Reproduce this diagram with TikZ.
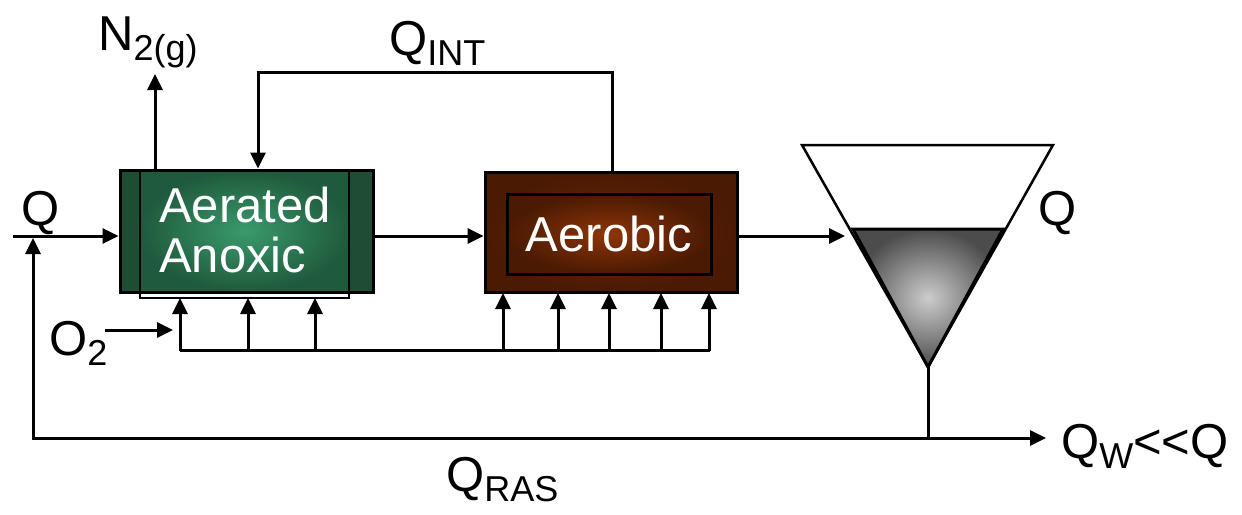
\documentclass[tikz,border=0pt]{standalone}
\usepackage{fontspec}
\setmainfont{Liberation Sans}
\usetikzlibrary{arrows.meta}
\newcommand{\subtxt}[1]{\raisebox{-10pt}{\fontsize{36}{36}\selectfont #1}}
\definecolor{greendark}{HTML}{1E4D34}
\definecolor{greenlight}{HTML}{3A9A6C}
\definecolor{greenedge}{HTML}{1F5A3C}
\definecolor{browndark}{HTML}{4A1A02}
\definecolor{brownmid}{HTML}{6A2808}
\definecolor{brownlight}{HTML}{8E3508}
\tikzset{
  lbl/.style={inner sep=0pt, font=\fontsize{49}{50}\selectfont},
  flow/.style={draw, line width=3pt, -{Triangle[length=16pt,width=15pt]}},
  plain/.style={draw, line width=3pt},
}
\begin{document}
\begin{tikzpicture}[x=1pt,y=-1pt]
\useasboundingbox (0,0) rectangle (1242,514);
% ---------- Aerated Anoxic tank
\node[draw, line width=3pt, fill=greendark, minimum width=253pt, minimum height=122pt, inner sep=0pt] (anox) at (246.5,231) {};
\shade[inner color=greenlight, outer color=greenedge, shading=radial] (140,171) rectangle (349,291);
\draw[line width=3pt] (120,170) rectangle (373,292);
\draw[line width=2.5pt] (140,170) rectangle (349,298);
\node[lbl, text=white, align=left, anchor=base west] (anoxtxt) at (159,272) {Aerated\\Anoxic};
% ---------- Aerobic tank
\node[draw, line width=3pt, minimum width=252pt, minimum height=120pt, inner sep=0pt,
      shading=radial, inner color=brownmid, outer color=browndark] (aer) at (611,232.5) {};
\node[draw, line width=3pt, minimum width=204pt, minimum height=80pt, inner sep=0pt,
      shading=radial, inner color=brownlight, outer color=browndark] (aerin) at (609,234) {};
\node[lbl, text=white] (aertxt) at (609,234) {Aerobic};
% ---------- Clarifier
\coordinate (c1) at (802,145);
\coordinate (c2) at (1053,145);
\coordinate (apex) at (928,367);
\draw[line width=2.5pt, line join=miter] (c1) -- (c2) -- (apex) -- cycle;
\shade[shading=radial, inner color=gray!40, outer color=black!70, draw=black, line width=3pt, line join=miter]
  (853,229) -- (1003,229) -- (apex) -- cycle;
% ---------- coordinates
\coordinate (qstart) at (13,236);
\coordinate (clarin) at (845,236);
\coordinate (junc) at (928,438);
\coordinate (retcorner) at (33,438);
\coordinate (retend) at (33,238);
\coordinate (waste) at (1046,438);
\coordinate (intR) at (612,72);
\coordinate (intL) at (258,72);
\coordinate (n2top) at (155,74);
\coordinate (o2s) at (105,330);
\coordinate (o2e) at (173,330);
\coordinate (airL) at (180,350);
\coordinate (airR) at (710,350);
% ---------- flows
\draw[flow] (qstart) -- (qstart -| anox.west);
\draw[flow] (anox.east |- qstart) -- (aer.west |- qstart);
\draw[flow] (aer.east |- qstart) -- (clarin);
\draw[plain] (apex) -- (junc);
\draw[flow] (junc) -- (retcorner) -- (retend);
\draw[flow] (junc) -- (waste);
\draw[flow] (intR |- aer.north) -- (intR) -- (intL) -- (intL |- anox.north);
\draw[flow] (n2top |- anox.north) -- (n2top);
\draw[flow] (o2s) -- (o2e);
% ---------- air diffusers
\draw[plain] (airL) -- (airR);
\foreach \x in {180,248,315} \draw[flow] (\x,351) -- (\x,298);
\foreach \x in {503,558,609,661,709} \draw[flow] (\x,351) -- (\x,293);
% ---------- labels
\node[lbl, anchor=base west] (lQin) at (21,225) {Q};
\node[lbl, anchor=base west] (lN2) at (98,50) {N\subtxt{2(g)}};
\node[lbl, anchor=base west] (lQint) at (389,55) {Q\subtxt{INT}};
\node[lbl, anchor=base west] (lO2) at (49,355) {O\subtxt{2}};
\node[lbl, anchor=base west] (lQout) at (1038,225) {Q};
\node[lbl, anchor=base west] (lQras) at (446,491) {Q\subtxt{RAS}};
\node[lbl, anchor=base west] (lQw) at (1061,458) {Q\subtxt{W}<{}<Q};
\end{tikzpicture}
\end{document}
